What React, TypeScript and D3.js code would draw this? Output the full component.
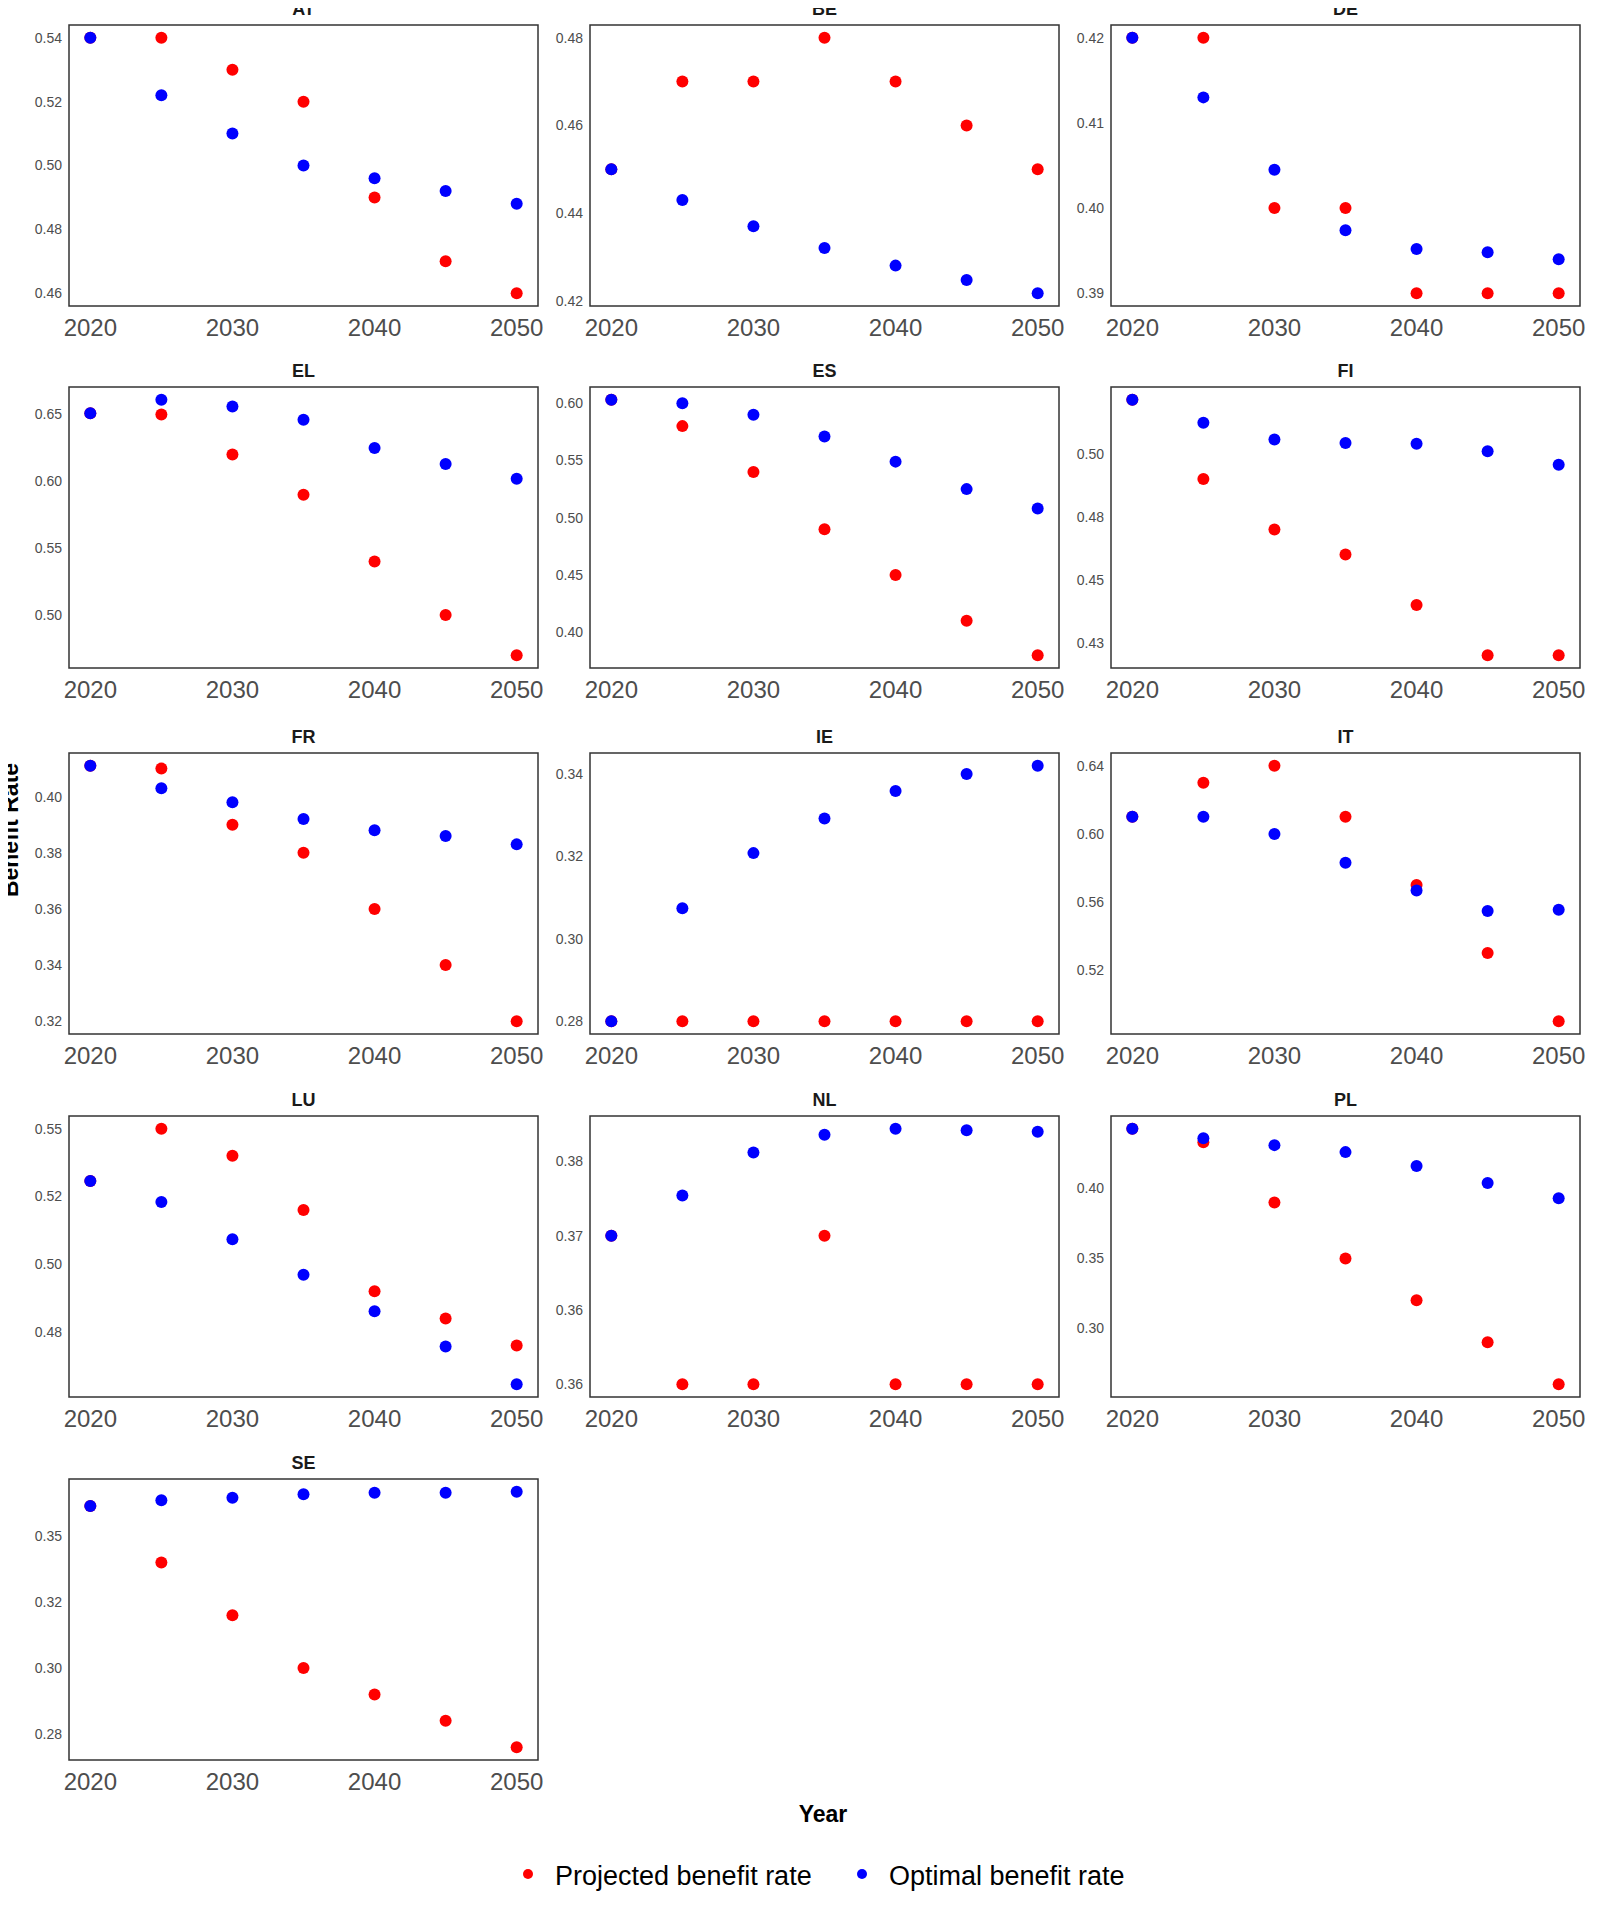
import React from "react";
import * as d3 from "d3";

const years = [2020, 2025, 2030, 2035, 2040, 2045, 2050];
const countries = ["AT","BE","DE","EL","ES","FI","FR","IE","IT","LU","NL","PL","SE"];
const projected: Record<string, number[]> = {
  AT: [0.54, 0.54, 0.53, 0.52, 0.49, 0.47, 0.46],
  BE: [0.45, 0.47, 0.47, 0.48, 0.47, 0.46, 0.45],
  DE: [0.42, 0.42, 0.40, 0.40, 0.39, 0.39, 0.39],
  EL: [0.651, 0.65, 0.62, 0.59, 0.54, 0.50, 0.47],
  ES: [0.603, 0.58, 0.54, 0.49, 0.45, 0.41, 0.38],
  FI: [0.5215, 0.49, 0.47, 0.46, 0.44, 0.42, 0.42],
  FR: [0.411, 0.41, 0.39, 0.38, 0.36, 0.34, 0.32],
  IE: [0.28, 0.28, 0.28, 0.28, 0.28, 0.28, 0.28],
  IT: [0.61, 0.63, 0.64, 0.61, 0.57, 0.53, 0.49],
  LU: [0.5307, 0.55, 0.54, 0.52, 0.49, 0.48, 0.47],
  NL: [0.37, 0.36, 0.36, 0.37, 0.36, 0.36, 0.36],
  PL: [0.4427, 0.433, 0.39, 0.35, 0.32, 0.29, 0.26],
  SE: [0.3614, 0.34, 0.32, 0.30, 0.29, 0.28, 0.27],
};
const optimal: Record<string, number[]> = {
  AT: [0.54, 0.522, 0.51, 0.50, 0.496, 0.492, 0.488],
  BE: [0.450, 0.443, 0.437, 0.432, 0.428, 0.4247, 0.4217],
  DE: [0.42, 0.413, 0.4045, 0.3974, 0.3952, 0.3948, 0.394],
  EL: [0.651, 0.661, 0.656, 0.646, 0.625, 0.613, 0.602],
  ES: [0.603, 0.60, 0.59, 0.571, 0.549, 0.525, 0.508],
  FI: [0.5215, 0.5124, 0.5057, 0.5043, 0.504, 0.501, 0.4957],
  FR: [0.411, 0.403, 0.398, 0.392, 0.388, 0.386, 0.383],
  IE: [0.28, 0.3074, 0.3208, 0.3292, 0.3359, 0.34, 0.342],
  IT: [0.61, 0.61, 0.60, 0.583, 0.5667, 0.5547, 0.5554],
  LU: [0.5307, 0.523, 0.5092, 0.4961, 0.4826, 0.4696, 0.4557],
  NL: [0.370, 0.3727, 0.3756, 0.3768, 0.3772, 0.3771, 0.377],
  PL: [0.4427, 0.436, 0.431, 0.426, 0.416, 0.404, 0.393],
  SE: [0.3614, 0.3636, 0.3645, 0.3659, 0.3664, 0.3664, 0.3668],
};
const yTicks: Record<string, number[]> = {
  AT: [0.46, 0.48, 0.50, 0.52, 0.54],
  BE: [0.42, 0.44, 0.46, 0.48],
  DE: [0.39, 0.40, 0.41, 0.42],
  EL: [0.50, 0.55, 0.60, 0.65],
  ES: [0.40, 0.45, 0.50, 0.55, 0.60],
  FI: [0.425, 0.45, 0.475, 0.50],
  FR: [0.32, 0.34, 0.36, 0.38, 0.40],
  IE: [0.28, 0.30, 0.32, 0.34],
  IT: [0.52, 0.56, 0.60, 0.64],
  LU: [0.475, 0.50, 0.525, 0.55],
  NL: [0.36, 0.365, 0.37, 0.375],
  PL: [0.30, 0.35, 0.40],
  SE: [0.275, 0.30, 0.325, 0.35],
};
const yTickLabels: Record<string, string[]> = {
  FI: ["0.43", "0.45", "0.48", "0.50"],
  LU: ["0.48", "0.50", "0.52", "0.55"],
  NL: ["0.36", "0.36", "0.37", "0.38"],
  SE: ["0.28", "0.30", "0.32", "0.35"],
};
const xTicks = [2020, 2030, 2040, 2050];
const legendLabels = ["Projected benefit rate", "Optimal benefit rate"];

const colX = [69, 590, 1111];
const rowY = [25, 387, 753, 1116, 1479];
const PW = 469;
const PH = 281;
const font = "Liberation Sans, Arial, sans-serif";

function Panel({ c, i }: { c: string; i: number }) {
  const x0 = colX[i % 3];
  const y0 = rowY[Math.floor(i / 3)];
  const all = [...projected[c], ...optimal[c]];
  const [mn, mx] = d3.extent(all) as [number, number];
  const pad = (mx - mn) * 0.05;
  const x = d3.scaleLinear().domain([2018.5, 2051.5]).range([0, PW]);
  const y = d3.scaleLinear().domain([mn - pad, mx + pad]).range([PH, 0]);
  const labels = yTickLabels[c] || yTicks[c].map((t) => d3.format(".2f")(t));
  return (
    <g transform={`translate(${x0},${y0})`}>
      <text x={PW / 2} y={-10} textAnchor="middle" fontWeight="bold" fontSize={18} fill="#1a1a1a">{c}</text>
      {yTicks[c].map((t, k) => (
        <text key={k} x={-7} y={y(t)} dy="0.35em" textAnchor="end" fontSize={14} fill="#4d4d4d">{labels[k]}</text>
      ))}
      {xTicks.map((t) => (
        <text key={t} x={x(t)} y={PH + 30} textAnchor="middle" fontSize={24} fill="#4d4d4d">{t}</text>
      ))}
      {years.map((yr, k) => (
        <circle key={"p" + k} cx={x(yr)} cy={y(projected[c][k])} r={6} fill="#ff0000" />
      ))}
      {years.map((yr, k) => (
        <circle key={"o" + k} cx={x(yr)} cy={y(optimal[c][k])} r={6} fill="#0000ff" />
      ))}
      <rect x={0} y={0} width={PW} height={PH} fill="none" stroke="#333" strokeWidth={1.5} />
    </g>
  );
}

export default function App() {
  return (
    <svg width={1599} height={1907} style={{ fontFamily: font, display: "block", margin: -8 }} fontFamily={font}>
      <rect width={1599} height={1907} fill="#fff" />
      {countries.map((c, i) => <Panel key={c} c={c} i={i} />)}
      <text transform="translate(18,830) rotate(-90)" textAnchor="middle" fontWeight="bold" fontSize={23} fill="#000">Benefit Rate</text>
      <text x={823} y={1822} textAnchor="middle" fontWeight="bold" fontSize={23} fill="#000">Year</text>
      <circle cx={528} cy={1874} r={5} fill="#ff0000" />
      <text x={555} y={1885} fontSize={27} fill="#000">{legendLabels[0]}</text>
      <circle cx={862} cy={1874} r={5} fill="#0000ff" />
      <text x={889} y={1885} fontSize={27} fill="#000">{legendLabels[1]}</text>
    </svg>
  );
}
